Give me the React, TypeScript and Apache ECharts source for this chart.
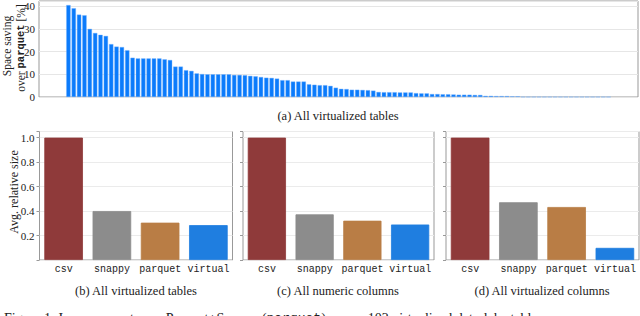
import React, { useEffect, useRef } from "react";
import * as echarts from "echarts";

// (a) space saving over parquet [%], one bar per virtualized table (102 tables, sorted)
const savings: number[] = [
  40.5, 39.1, 36.3, 36.0, 30.0, 28.2, 27.4, 26.9, 23.3, 22.2,
  22.0, 20.6, 17.3, 17.0, 17.0, 17.0, 17.0, 17.0, 16.6, 16.3,
  13.4, 13.4, 11.8, 11.5, 10.4, 10.1, 10.0, 10.0, 10.0, 10.0,
  10.0, 9.7, 9.7, 9.6, 9.3, 9.1, 8.8, 8.5, 8.4, 8.1,
  7.4, 7.4, 6.8, 6.8, 6.8, 5.6, 5.4, 5.2, 5.2, 4.9,
  4.1, 3.6, 3.5, 3.2, 3.2, 3.1, 3.0, 2.8, 2.2, 2.1,
  2.1, 2.1, 2.0, 2.0, 2.0, 1.7, 1.6, 1.6, 1.3, 1.3,
  1.2, 1.2, 1.1, 1.0, 1.0, 1.0, 0.9, 0.9, 0.5, 0.5,
  0.4, 0.4, 0.4, 0.3, 0.3, 0, 0, 0, 0, 0,
  0, 0, 0, 0, 0, 0, 0, 0, 0, 0,
  0, 0,
];
const topTicks: number[] = [0, 10, 20, 30, 40];

// (b)-(d) average relative size
const formats: string[] = ["csv", "snappy", "parquet", "virtual"];
const formatColors: string[] = ["#8f3a3a", "#8c8c8c", "#b97d45", "#1f7ee0"];
const allTables: number[] = [1.0, 0.4, 0.305, 0.285];
const numericColumns: number[] = [1.0, 0.373, 0.321, 0.29];
const allColumns: number[] = [1.0, 0.472, 0.433, 0.099];
const bottomTicks: number[] = [0.2, 0.4, 0.6, 0.8, 1.0];

const captions: string[] = [
  "(a) All virtualized tables",
  "(b) All virtualized tables",
  "(c) All numeric columns",
  "(d) All virtualized columns",
];

const SERIF = "'Liberation Serif', 'DejaVu Serif', serif";
const MONO = "'Liberation Mono', 'DejaVu Sans Mono', monospace";
const TXT = "#222";

export default function App() {
  const ref = useRef<HTMLDivElement>(null);
  useEffect(() => {
    if (!ref.current) return;
    const chart = echarts.init(ref.current, null, { renderer: "svg" });

    const bottomGrids = [
      { left: 39.5, top: 131.5, width: 193, height: 128.5 },
      { left: 243, top: 131.5, width: 191, height: 128.5 },
      { left: 446, top: 131.5, width: 193, height: 128.5 },
    ];
    const bottomData = [allTables, numericColumns, allColumns];

    const grid: any[] = [
      { left: 39, top: 1, width: 599, height: 96, show: true, borderColor: "#999", borderWidth: 1, backgroundColor: "transparent" },
      ...bottomGrids.map((g) => ({ ...g, show: true, borderColor: "#999", borderWidth: 1, backgroundColor: "transparent" })),
    ];

    const xAxis: any[] = [
      {
        gridIndex: 0, type: "value", min: -5.5, max: 106.5,
        axisLine: { show: false }, axisTick: { show: false }, axisLabel: { show: false }, splitLine: { show: false },
      },
      ...bottomGrids.map((_, i) => ({
        gridIndex: i + 1, type: "category", data: formats,
        axisLine: { show: false }, axisTick: { show: false },
        axisLabel: { interval: 0, fontFamily: MONO, fontSize: 10, color: TXT, margin: 4 },
      })),
    ];

    const yAxis: any[] = [
      {
        gridIndex: 0, type: "value", min: 0, max: 42.3, interval: 10,
        axisLine: { show: false }, axisTick: { show: false },
        axisLabel: {
          fontFamily: SERIF, fontSize: 11, color: TXT, margin: 4,
          formatter: (v: number) => (topTicks.some((t) => Math.abs(t - v) < 1e-6) ? String(v) : ""),
        },
        splitLine: { lineStyle: { color: "#e6e6e6", width: 1 } },
      },
      ...bottomGrids.map((_, i) => ({
        gridIndex: i + 1, type: "value", min: 0, max: 1.05, interval: 0.2,
        axisLine: { show: false },
        axisTick: { show: true, length: 3, lineStyle: { color: "#999" } },
        axisLabel: {
          show: i === 0, fontFamily: SERIF, fontSize: 11, color: TXT, margin: 5,
          formatter: (v: number) => (bottomTicks.some((t) => Math.abs(t - v) < 1e-6) ? v.toFixed(1) : ""),
        },
        splitLine: { lineStyle: { color: "#ebebeb", width: 1 } },
      })),
    ];

    const series: any[] = [
      {
        type: "bar", xAxisIndex: 0, yAxisIndex: 0, barWidth: 4.3,
        data: savings.map((v, i) => [i, v]),
        itemStyle: { color: "#0b7bfb", borderColor: "#74b3ff", borderWidth: 0.4 },
      },
      ...bottomData.map((arr, i) => ({
        type: "bar", xAxisIndex: i + 1, yAxisIndex: i + 1, barCategoryGap: "20%",
        data: arr.map((v, k) => ({
          value: v,
          itemStyle: { color: formatColors[k], borderColor: formatColors[k], borderWidth: 0.8 },
        })),
      })),
    ];

    const captionStyle = { fontFamily: SERIF, fontSize: 12.5, fill: TXT, align: "center", verticalAlign: "middle" };

    const graphic: any[] = [
      {
        type: "text", x: 7, y: 46, rotation: Math.PI / 2,
        style: { text: "Space saving", fontFamily: SERIF, fontSize: 11.5, fill: TXT, align: "center", verticalAlign: "middle" },
      },
      {
        type: "text", x: 21, y: 48, rotation: Math.PI / 2,
        style: {
          text: "over {m|parquet} [%]", fontFamily: SERIF, fontSize: 11.5, fill: TXT, align: "center", verticalAlign: "middle",
          rich: { m: { fontFamily: MONO, fontSize: 10.5, fontWeight: "bold", fill: TXT } },
        },
      },
      {
        type: "text", x: 14, y: 192, rotation: Math.PI / 2,
        style: { text: "Avg. relative size", fontFamily: SERIF, fontSize: 12, fill: TXT, align: "center", verticalAlign: "middle" },
      },
      { type: "text", x: 338, y: 116, style: { ...captionStyle, text: captions[0] } },
      { type: "text", x: 136, y: 291, style: { ...captionStyle, text: captions[1] } },
      { type: "text", x: 338, y: 291, style: { ...captionStyle, text: captions[2] } },
      { type: "text", x: 542, y: 291, style: { ...captionStyle, text: captions[3] } },
      {
        type: "text", x: 4, y: 318,
        style: {
          text: "Figure 1: Improvement over Parquet+Snappy ({m|parquet}) across 102 virtualized data-lake tables.",
          fontFamily: SERIF, fontSize: 14, fill: TXT, align: "left", verticalAlign: "middle",
          rich: { m: { fontFamily: MONO, fontSize: 13, fill: TXT } },
        },
      },
    ];

    chart.setOption({ animation: false, grid, xAxis, yAxis, series, graphic });
    return () => chart.dispose();
  }, []);

  return <div ref={ref} style={{ position: "fixed", left: 0, top: 0, width: 640, height: 316, background: "#fff" }} />;
}
